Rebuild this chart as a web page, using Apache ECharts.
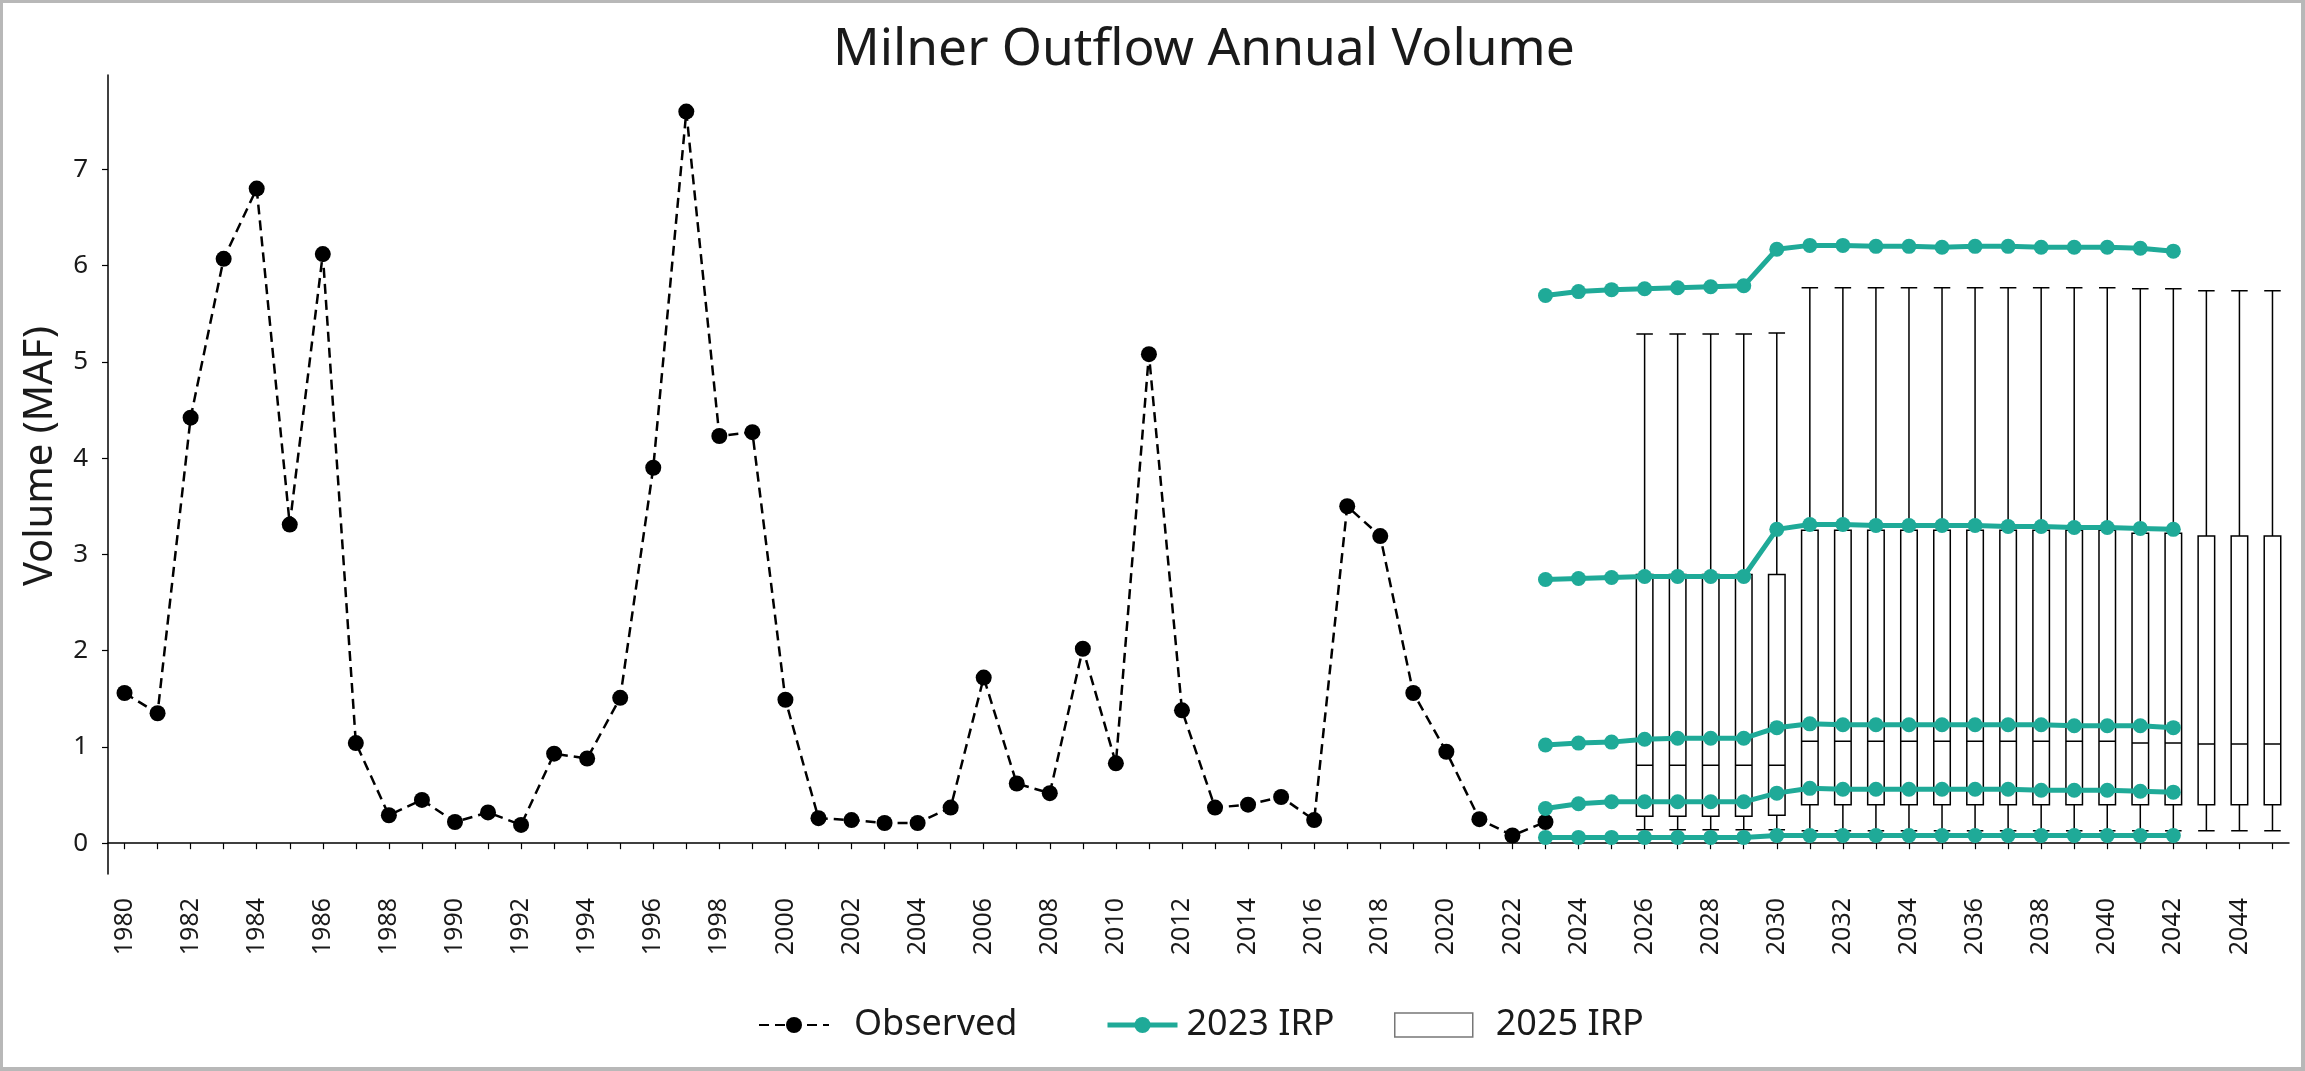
<!DOCTYPE html>
<html>
<head>
<meta charset="utf-8">
<script src="https://cdn.jsdelivr.net/npm/echarts@6/dist/echarts.min.js"></script>
<style>html,body{margin:0;padding:0;background:#fff;}#c{width:2305px;height:1071px;}</style>
</head>
<body>
<div id="c"></div>
<script>
// ---------- data ----------
const categories = [];
for (let y = 1980; y <= 2045; y++) categories.push(String(y));

const observedYears = [];
for (let y = 1980; y <= 2023; y++) observedYears.push(String(y));
const observed = [1.56,1.35,4.42,6.07,6.80,3.31,6.12,1.04,0.29,0.45,0.22,0.32,0.19,0.93,0.88,1.51,3.90,7.60,4.23,4.27,
  1.49,0.26,0.24,0.21,0.21,0.37,1.72,0.62,0.52,2.02,0.83,5.08,1.38,0.37,0.40,0.48,0.24,3.50,3.19,1.56,0.95,0.25,0.08,0.22];

const irpYears = [];
for (let y = 2023; y <= 2042; y++) irpYears.push(String(y));
const irp1 = [5.69,5.73,5.75,5.76,5.77,5.78,5.79,6.17,6.21,6.21,6.20,6.20,6.19,6.20,6.20,6.19,6.19,6.19,6.18,6.15];
const irp2 = [2.74,2.75,2.76,2.77,2.77,2.77,2.77,3.26,3.31,3.31,3.30,3.30,3.30,3.30,3.29,3.29,3.28,3.28,3.27,3.26];
const irp3 = [1.02,1.04,1.05,1.08,1.09,1.09,1.09,1.20,1.24,1.23,1.23,1.23,1.23,1.23,1.23,1.23,1.22,1.22,1.22,1.20];
const irp4 = [0.36,0.41,0.43,0.43,0.43,0.43,0.43,0.52,0.57,0.56,0.56,0.56,0.56,0.56,0.56,0.55,0.55,0.55,0.54,0.53];
const irp5 = [0.06,0.06,0.06,0.06,0.06,0.06,0.06,0.08,0.08,0.08,0.08,0.08,0.08,0.08,0.08,0.08,0.08,0.08,0.08,0.08];

const boxYears = [];
for (let y = 2026; y <= 2045; y++) boxYears.push(String(y));
const boxMin = [0.14,0.14,0.14,0.14,0.14,0.13,0.13,0.13,0.13,0.13,0.13,0.13,0.13,0.13,0.13,0.13,0.13,0.13,0.13,0.13];
const boxQ1  = [0.28,0.28,0.28,0.28,0.29,0.40,0.40,0.40,0.40,0.40,0.40,0.40,0.40,0.40,0.40,0.40,0.40,0.40,0.40,0.40];
const boxMed = [0.81,0.81,0.81,0.81,0.81,1.06,1.06,1.06,1.06,1.06,1.06,1.06,1.06,1.06,1.06,1.04,1.04,1.03,1.03,1.03];
const boxQ3  = [2.79,2.79,2.79,2.79,2.79,3.25,3.25,3.25,3.25,3.25,3.25,3.25,3.25,3.25,3.25,3.22,3.22,3.19,3.19,3.19];
const boxMax = [5.29,5.29,5.29,5.29,5.30,5.77,5.77,5.77,5.77,5.77,5.77,5.77,5.77,5.77,5.77,5.76,5.76,5.74,5.74,5.74];

const yTicks = [0,1,2,3,4,5,6,7];

// ---------- chart ----------
const FONT = '"Noto Sans", "DejaVu Sans", sans-serif';
const TEAL = '#1faa98';
const TXT = '#1a1a1a';

const chart = echarts.init(document.getElementById('c'), null, {renderer: 'canvas'});

const irpSets = [irp1, irp2, irp3, irp4, irp5];
const irpSeries = irpSets.map(arr => ({
  name: '2023 IRP',
  type: 'line',
  data: irpYears.map((y, i) => [y, arr[i]]),
  symbol: 'circle',
  symbolSize: 15,
  lineStyle: {color: TEAL, width: 5},
  itemStyle: {color: TEAL},
  z: 5,
  animation: false
}));

const legendText = {fontFamily: FONT, fontSize: 36, color: TXT};

const option = {
  animation: false,
  backgroundColor: '#fff',
  textStyle: {fontFamily: FONT},
  title: {
    text: 'Milner Outflow Annual Volume',
    left: 833,
    top: 24,
    padding: 0,
    textStyle: {fontFamily: FONT, fontSize: 51.5, fontWeight: 'normal', color: TXT}
  },
  legend: [
    {
      left: 753, top: 1002, itemWidth: 70, itemHeight: 20,
      textStyle: Object.assign({padding: [0, 0, 0, 20]}, legendText),
      data: ['Observed']
    },
    {
      left: 1100, top: 1002, itemWidth: 70, itemHeight: 20,
      lineStyle: {width: 5, color: TEAL},
      textStyle: Object.assign({padding: [0, 0, 0, 4]}, legendText),
      data: ['2023 IRP']
    },
    {
      left: 1389, top: 1002, itemWidth: 78, itemHeight: 24,
      textStyle: Object.assign({padding: [0, 0, 0, 18]}, legendText),
      data: [{name: '2025 IRP', icon: 'rect', itemStyle: {color: '#fff', borderColor: '#777', borderWidth: 1.5}}]
    }
  ],
  grid: {left: 108, right: 16, top: 75, bottom: 197, containLabel: false},
  xAxis: {
    type: 'category',
    data: categories,
    boundaryGap: true,
    axisLine: {lineStyle: {color: '#000', width: 1.5}},
    axisTick: {show: true, interval: 0, alignWithLabel: true, length: 6, lineStyle: {color: '#000', width: 1.2}},
    axisLabel: {interval: 1, rotate: 90, margin: 24, fontSize: 25, color: TXT, fontFamily: FONT},
    splitLine: {show: false}
  },
  yAxis: {
    type: 'value',
    min: -0.32,
    max: 7.98,
    axisLine: {show: true, lineStyle: {color: '#000', width: 1.5}},
    axisTick: {show: true, length: 6, customValues: yTicks, lineStyle: {color: '#000', width: 1.2}},
    axisLabel: {customValues: yTicks, margin: 20, fontSize: 26, color: TXT, fontFamily: FONT},
    splitLine: {show: false}
  },
  graphic: [
    {
      type: 'text',
      x: 41, y: 456,
      rotation: Math.PI / 2,
      style: {text: 'Volume (MAF)', fontFamily: FONT, fontSize: 40, fill: TXT, align: 'center', verticalAlign: 'middle'},
      silent: true
    },
    {
      type: 'rect',
      shape: {x: 1, y: 1, width: 2302, height: 1068},
      style: {fill: 'none', stroke: '#b8b8b8', lineWidth: 4},
      silent: true,
      z: 100
    }
  ],
  series: [
    {
      name: '2025 IRP',
      type: 'boxplot',
      dimensions: ['year', 'min', 'Q1', 'median', 'Q3', 'max'],
      encode: {x: 0, y: [1, 2, 3, 4, 5]},
      data: boxYears.map((y, i) => [y, boxMin[i], boxQ1[i], boxMed[i], boxQ3[i], boxMax[i]]),
      boxWidth: ['50%', '50%'],
      itemStyle: {color: '#fff', borderColor: '#000', borderWidth: 1.5},
      z: 2,
      animation: false
    },
    {
      name: 'Observed',
      type: 'line',
      data: observedYears.map((y, i) => [y, observed[i]]),
      symbol: 'circle',
      symbolSize: 16,
      lineStyle: {color: '#000', width: 2.5, type: [10, 6]},
      itemStyle: {color: '#000'},
      z: 4,
      animation: false
    }
  ].concat(irpSeries)
};

chart.setOption(option);
</script>
</body>
</html>
